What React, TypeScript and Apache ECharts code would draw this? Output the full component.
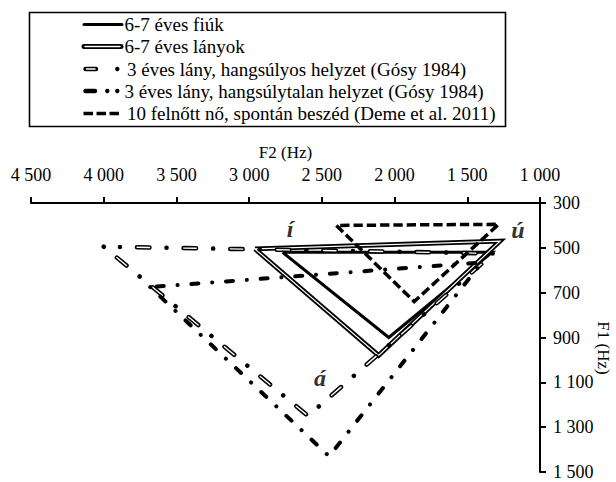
import React, { useEffect, useRef } from "react";
import * as echarts from "echarts";

// Vowel order of each closed triangle: í → á → ú → í
const vowelOrder = ["í", "á", "ú", "í"];

const seriesNames = [
  "6-7 éves fiúk",
  "6-7 éves lányok",
  "3 éves lány, hangsúlyos helyzet (Gósy 1984)",
  "3 éves lány, hangsúlytalan helyzet (Gósy 1984)",
  "10 felnőtt nő, spontán beszéd (Deme et al. 2011)",
];

// F2 (Hz) and F1 (Hz) per vowel, in vowelOrder
const fiukF2 = [2770, 2040, 1330, 2770];
const fiukF1 = [520, 900, 520, 520];

const lanyokF2 = [2960, 2110, 1275, 2960];
const lanyokF1 = [505, 980, 470, 505];

const hangsulyosF2 = [4000, 2595, 1320, 4000];
const hangsulyosF1 = [495, 1250, 525, 495];

const hangsulytalanF2 = [3680, 2450, 1400, 3680];
const hangsulytalanF1 = [675, 1430, 565, 675];

const felnottF2 = [2400, 1865, 1285, 2400];
const felnottF1 = [400, 740, 395, 400];

const xTickValues = [4500, 4000, 3500, 3000, 2500, 2000, 1500, 1000];
const yTickValues = [300, 500, 700, 900, 1100, 1300, 1500];

const FONT = "Liberation Serif";

const fmtHz = (v: number) => {
  const s = String(Math.round(v));
  return s.length > 3 ? s.slice(0, s.length - 3) + " " + s.slice(-3) : s;
};

const pairs = (f2: number[], f1: number[]) => f2.map((x, i) => [x, f1[i]]);

export default function App() {
  const ref = useRef<HTMLDivElement>(null);

  useEffect(() => {
    if (!ref.current) return;
    const chart = echarts.init(ref.current, undefined, { renderer: "svg" });

    const base = {
      type: "line",
      symbol: "none",
      silent: true,
      clip: false,
      emphasis: { disabled: true },
    };

    const legendRows = [24.5, 46.5, 69, 91, 113.5];
    const textX = [124.5, 124.5, 127, 124.5, 127];

    const legendGraphics: any[] = [
      {
        type: "rect",
        shape: { x: 29.5, y: 12.5, width: 476, height: 114 },
        style: { fill: "#fff", stroke: "#000", lineWidth: 1.6 },
        z: 0,
      },
      {
        type: "line",
        shape: { x1: 84, y1: legendRows[0], x2: 122, y2: legendRows[0] },
        style: { stroke: "#000", lineWidth: 3, lineCap: "round" },
      },
      {
        type: "line",
        shape: { x1: 84, y1: legendRows[1], x2: 121, y2: legendRows[1] },
        style: { stroke: "#000", lineWidth: 5, lineCap: "round" },
      },
      {
        type: "line",
        shape: { x1: 85, y1: legendRows[1], x2: 120, y2: legendRows[1] },
        style: { stroke: "#fff", lineWidth: 1.5, lineCap: "round" },
        z: 2,
      },
      {
        type: "line",
        shape: { x1: 85.5, y1: legendRows[2], x2: 96, y2: legendRows[2] },
        style: { stroke: "#000", lineWidth: 4.5, lineCap: "round" },
      },
      {
        type: "line",
        shape: { x1: 86.5, y1: legendRows[2], x2: 95, y2: legendRows[2] },
        style: { stroke: "#fff", lineWidth: 1.5, lineCap: "round" },
        z: 2,
      },
      {
        type: "circle",
        shape: { cx: 117.3, cy: legendRows[2], r: 2.2 },
        style: { fill: "#000" },
      },
      {
        type: "line",
        shape: { x1: 85.5, y1: legendRows[3], x2: 95, y2: legendRows[3] },
        style: { stroke: "#000", lineWidth: 4.5, lineCap: "round" },
      },
      {
        type: "circle",
        shape: { cx: 107.3, cy: legendRows[3], r: 2.2 },
        style: { fill: "#000" },
      },
      {
        type: "circle",
        shape: { cx: 117.3, cy: legendRows[3], r: 2.2 },
        style: { fill: "#000" },
      },
      {
        type: "line",
        shape: { x1: 83.5, y1: legendRows[4], x2: 122, y2: legendRows[4] },
        style: { stroke: "#000", lineWidth: 3.5, lineDash: [9.5, 3.5] },
      },
      ...seriesNames.map((n, i) => ({
        type: "text",
        x: textX[i],
        y: legendRows[i],
        style: {
          text: n,
          fontFamily: FONT,
          fontSize: 19,
          fill: "#000",
          verticalAlign: "middle",
          align: "left",
        },
      })),
    ];

    const vowelLabels = [
      { t: "í", x: 290, y: 229 },
      { t: "ú", x: 518, y: 230 },
      { t: "á", x: 320, y: 378 },
    ].map((v) => ({
      type: "text",
      x: v.x,
      y: v.y,
      z: 10,
      style: {
        text: v.t,
        fontFamily: FONT,
        fontSize: 24,
        fontStyle: "italic",
        fontWeight: "bold",
        fill: "#333",
        align: "center",
        verticalAlign: "middle",
      },
    }));

    const f1Name = {
      type: "text",
      x: 603,
      y: 348,
      rotation: -Math.PI / 2,
      style: {
        text: "F1 (Hz)",
        fontFamily: FONT,
        fontSize: 17,
        fill: "#000",
        align: "center",
        verticalAlign: "middle",
      },
    };

    chart.setOption({
      animation: false,
      backgroundColor: "#fff",
      textStyle: { fontFamily: FONT },
      grid: {
        left: 31,
        right: 76,
        top: 203,
        bottom: 10,
        containLabel: false,
        outerBoundsMode: "none",
      },
      xAxis: {
        type: "value",
        position: "top",
        inverse: true,
        min: 1000,
        max: 4500,
        interval: 500,
        name: "F2 (Hz)",
        nameLocation: "middle",
        nameGap: 42,
        nameTextStyle: { fontFamily: FONT, fontSize: 17, color: "#000" },
        axisLine: { show: true, onZero: false, lineStyle: { color: "#000", width: 2 } },
        axisTick: { show: true, inside: false, length: 6, lineStyle: { color: "#000", width: 2 } },
        axisLabel: {
          formatter: (v: number) => fmtHz(v),
          fontFamily: FONT,
          fontSize: 18,
          color: "#000",
          margin: 19,
          customValues: xTickValues,
        },
        splitLine: { show: false },
      },
      yAxis: {
        type: "value",
        position: "right",
        inverse: true,
        min: 300,
        max: 1500,
        axisLine: { show: true, onZero: false, lineStyle: { color: "#000", width: 2 } },
        axisTick: {
          show: true,
          inside: false,
          length: 6,
          lineStyle: { color: "#000", width: 2 },
          customValues: yTickValues,
        },
        axisLabel: {
          formatter: (v: number) => fmtHz(v),
          fontFamily: FONT,
          fontSize: 18,
          lineHeight: 16,
          color: "#000",
          margin: 13,
          customValues: yTickValues,
        },
        splitLine: { show: false },
      },
      series: [
        {
          ...base,
          name: seriesNames[0],
          data: pairs(fiukF2, fiukF1),
          lineStyle: { color: "#000", width: 3, join: "miter" },
        },
        {
          ...base,
          name: seriesNames[1],
          data: pairs(lanyokF2, lanyokF1),
          lineStyle: { color: "#000", width: 4.8, join: "miter" },
        },
        {
          ...base,
          name: seriesNames[1] + " ",
          data: pairs(lanyokF2, lanyokF1),
          lineStyle: { color: "#fff", width: 1.2, join: "miter" },
        },
        {
          ...base,
          name: seriesNames[2],
          data: pairs(hangsulyosF2, hangsulyosF1),
          lineStyle: {
            color: "#000",
            width: 4.5,
            type: [0.1, 17, 12.5, 17],
            cap: "round",
            join: "round",
          },
        },
        {
          ...base,
          name: seriesNames[2] + " ",
          data: pairs(hangsulyosF2, hangsulyosF1),
          lineStyle: {
            color: "#fff",
            width: 1.4,
            type: [12.5, 34.1],
            dashOffset: -17.1,
            cap: "round",
            join: "round",
          },
        },
        {
          ...base,
          name: seriesNames[3],
          data: pairs(hangsulytalanF2, hangsulytalanF1),
          lineStyle: {
            color: "#000",
            width: 4,
            type: [0.1, 13.8, 7, 13.8],
            cap: "round",
            join: "round",
          },
        },
        {
          ...base,
          name: seriesNames[4],
          data: pairs(felnottF2, felnottF1),
          lineStyle: { color: "#000", width: 3.5, type: [9.3, 4], join: "miter" },
        },
      ],
      graphic: [...legendGraphics, f1Name, ...vowelLabels],
    });

    return () => chart.dispose();
  }, []);

  return (
    <div
      ref={ref}
      style={{ position: "fixed", left: 0, top: 0, width: 616, height: 482, background: "#fff" }}
    />
  );
}
